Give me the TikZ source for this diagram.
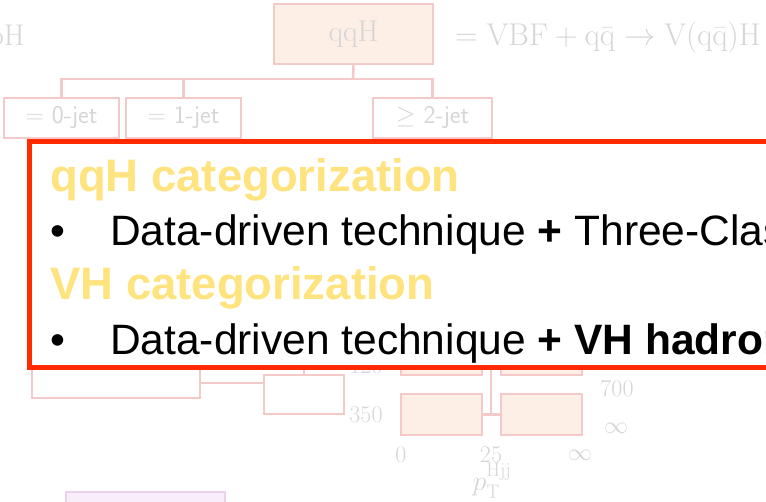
\RequirePackage{fix-cm}
\documentclass[tikz,border=0pt]{standalone}
\usepackage[no-math]{fontspec}
\usepackage{amssymb}
\newfontfamily\slidefont{Liberation Sans}

\definecolor{fadeline}{HTML}{F4C9C9}
\definecolor{fadefill}{HTML}{FDEFE5}
\definecolor{fadetext}{HTML}{D6D6D6}
\definecolor{fadepurple}{HTML}{F9ECFB}
\definecolor{fadepurpleline}{HTML}{E9D2EA}
\definecolor{framered}{HTML}{FF2A00}
\definecolor{headyellow}{HTML}{FFE37E}

\tikzset{
  binbox/.style={draw=fadeline, line width=2.5pt, inner sep=0pt,
    text=fadetext, minimum height=40pt},
  binfill/.style={binbox, fill=fadefill},
  binlink/.style={draw=fadeline, line width=2.5pt},
  jetlabel/.style={font=\sffamily\fontsize{25.5}{25.5}\selectfont},
  edgelabel/.style={text=fadetext, inner sep=0pt, font=\fontsize{24}{24}\selectfont},
  heading/.style={anchor=base west, inner sep=0pt, text=headyellow,
    font=\slidefont\bfseries\fontsize{45.5}{45.5}\selectfont},
  bulletline/.style={anchor=base west, inner sep=0pt, text=black,
    font=\slidefont\fontsize{42.5}{42.5}\selectfont}
}

\begin{document}
\begin{tikzpicture}[x=1pt, y=-1pt]
  \useasboundingbox (0,0) rectangle (766,501);

  % faded tree behind the box
  \node[text=fadetext, anchor=base east, inner sep=0pt, font=\fontsize{30}{30}\selectfont]
    (bbh) at (25,45) {$\mathrm{bbH}$};
  \node[binfill, minimum width=159pt, minimum height=60pt, font=\fontsize{30}{30}\selectfont]
    (qqh) at (353.5,34) {$\mathrm{qqH}$};
  \node[text=fadetext, anchor=base west, inner sep=0pt, font=\fontsize{31.5}{31.5}\selectfont]
    (qqhdef) at (455,45) {$= \mathrm{VBF} + \mathrm{q\bar{q}} \to \mathrm{V(q\bar{q})H}$};

  \node[binbox, jetlabel, minimum width=115pt] (jet0) at (61.5,118) {$=$ 0-jet};
  \node[binbox, jetlabel, minimum width=115pt] (jet1) at (183.5,118) {$=$ 1-jet};
  \node[binbox, jetlabel, minimum width=119pt] (jet2) at (432.5,118) {$\geq$ 2-jet};

  \coordinate (split) at (353,79);
  \draw[binlink] (qqh.south) -- (split);
  \draw[binlink] (split) -| (jet0.north);
  \draw[binlink] (split) -| (jet1.north);
  \draw[binlink] (split) -| (jet2.north);

  % lower part of the tree
  \node[binbox, minimum width=168pt, minimum height=55pt] (mjjlow) at (116,370.5) {};
  \node[binbox, minimum width=80pt, minimum height=39pt] (mjjhigh) at (304,394.5) {};
  \coordinate (link) at (0,383);
  \coordinate (mjjsplit) at (304,340);
  \draw[binlink] (mjjlow.east |- link) -- (mjjhigh.west |- link);
  \draw[binlink] (mjjsplit) -- (mjjhigh.north);
  \node[edgelabel] (lbl120) at (366,366) {120};
  \node[edgelabel] (lbl350) at (366,415) {350};

  \node[binfill, minimum width=81pt] (ptup1) at (441.5,355) {};
  \node[binfill, minimum width=81pt] (ptup2) at (541.5,355) {};
  \node[binfill, minimum width=81pt, minimum height=41pt] (ptlo1) at (441.5,414.5) {};
  \node[binfill, minimum width=81pt, minimum height=41pt] (ptlo2) at (541.5,414.5) {};
  \coordinate (ptsplit) at (491,340);
  \draw[binlink] (ptsplit) -- (ptsplit |- ptlo1.east);
  \draw[binlink] (ptlo1.east) -- (ptlo2.west);
  \node[edgelabel] (lbl700) at (617,389) {700};
  \node[edgelabel] (lblinfa) at (616,428) {$\infty$};
  \node[edgelabel] (lbl0) at (401,455) {0};
  \node[edgelabel] (lbl25) at (491,455) {25};
  \node[edgelabel] (lblinfb) at (580,455) {$\infty$};
  \node[edgelabel, font=\fontsize{28}{28}\selectfont] (ptlabel) at (492,481)
    {$p_{\mathrm{T}}^{\mathrm{Hjj}}$};

  \node[draw=fadepurpleline, fill=fadepurple, line width=2.5pt, inner sep=0pt,
    minimum width=159pt, minimum height=48pt] (vhbox) at (145.5,516) {};

  % summary box on top
  \draw[framered, line width=5pt, fill=white] (29.5,141.5) rectangle (800,367.5);
  \node[heading] (qqhhead) at (50,191) {qqH categorization};
  \node[bulletline] (qqhitem) at (50,245)
    {\makebox[60pt][l]{•}Data-driven technique \textbf{+} Three-Class DNN};
  \node[heading] (vhhead) at (50,299) {VH categorization};
  \node[bulletline] (vhitem) at (50,354)
    {\makebox[60pt][l]{•}Data-driven technique \textbf{+ VH hadronic}};
\end{tikzpicture}
\end{document}
